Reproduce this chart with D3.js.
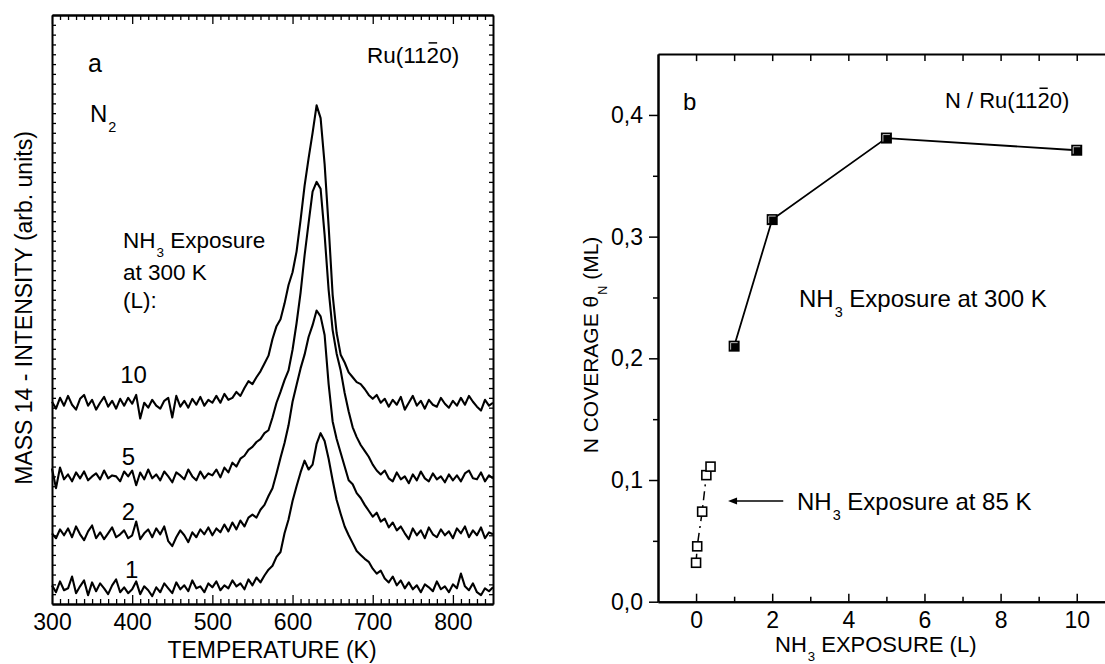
<!DOCTYPE html>
<html>
<head>
<meta charset="utf-8">
<script src="https://cdn.jsdelivr.net/npm/d3@7"></script>
<style>
body { margin: 0; background: #fff; }
svg { display: block; font-family: "Liberation Sans", Arial, sans-serif; }
.axis path, .axis line { stroke: #000; }
.axis text { font-size: 23px; fill: #000; font-family: "Liberation Sans", Arial, sans-serif; }
</style>
</head>
<body>
<svg id="chart" width="1105" height="664"></svg>
<script>
// ---- panel a : mass 14 TPD traces, one value every 5 K from 300 to 850 K
var tStart = 300, tStep = 5;
var exposureLabels = ["1", "2", "5", "10"];
var trace1 = [
  1.9, 1.2, 2.3, 1.4, 1.6, 2.8, 1.1, 1.8, 2.4, 0.9, 2.2, 1.3, 2.1, 1.6, 1.0, 1.9, 2.5, 1.2, 1.7, 1.1,
  1.5, 2.3, 1.0, 1.8, 1.4, 0.8, 1.7, 1.2, 2.1, 1.6, 1.1, 2.2, 1.5, 1.9, 1.3, 2.4, 1.6, 1.8, 1.2, 2.1,
  1.7, 2.3, 1.4, 1.9, 1.6, 2.4, 1.8, 2.1, 1.5, 2.5, 1.9, 2.7, 2.2, 2.9, 3.5, 3.9, 4.8, 5.3, 7.2, 8.6,
  10.5, 12.0, 13.4, 14.6, 13.7, 14.2, 16.3, 17.4, 16.6, 14.8, 12.6, 10.6, 9.2, 7.9, 7.0, 6.2, 5.4, 5.0, 4.6, 4.3,
  3.6, 3.1, 3.4, 2.6, 2.2, 2.8, 1.9, 2.4, 1.6, 2.2, 1.5, 1.9, 1.2, 2.0, 1.7, 1.3, 2.3, 1.5, 1.8, 1.2,
  2.0, 1.6, 3.1, 1.8, 1.4, 2.1, 1.2, 0.9, 1.6, 1.3, 1.7
];
var trace2 = [
  7.2, 6.7, 7.6, 7.0, 7.7, 6.8, 7.9, 7.1, 6.5, 7.4, 8.0, 6.7, 7.3, 6.6, 7.2, 7.8, 6.8, 7.1, 7.5, 6.7,
  7.0, 8.4, 6.6, 7.2, 7.6, 6.8, 7.7, 7.1, 7.9, 6.4, 5.9, 6.8, 7.5, 7.0, 6.3, 7.3, 6.8, 7.6, 7.1, 7.8,
  7.0, 7.7, 7.3, 8.1, 7.4, 8.3, 7.6, 8.5, 7.9, 8.8, 9.1, 8.8, 9.6, 10.1, 11.0, 11.8, 13.3, 14.9, 16.4, 18.2,
  20.6, 22.3, 24.0, 25.4, 27.2, 28.4, 29.9, 29.3, 27.4, 22.4, 18.6, 16.8, 15.4, 14.0, 12.6, 12.2, 11.3, 10.8, 10.1, 9.5,
  8.9, 9.3, 8.4, 8.7, 7.8, 8.3, 7.5, 7.9, 7.2, 6.6, 7.7, 7.0, 7.5, 6.7, 7.8, 7.1, 6.8, 7.6, 7.0, 7.4,
  6.7, 7.7, 7.2, 7.9, 6.8, 7.5, 7.0, 7.8, 6.7, 7.3, 7.1
];
var trace5 = [
  13.8, 11.8, 13.9, 12.7, 13.2, 12.5, 13.4, 12.8, 13.5, 12.6, 13.0, 13.3, 12.7, 13.6, 12.8, 13.1, 13.0, 12.5, 13.5, 13.0,
  13.6, 12.1, 13.4, 12.7, 13.7, 12.8, 13.2, 12.6, 13.5, 13.0, 12.4, 13.4, 13.1, 12.7, 13.7, 13.0, 12.6, 13.5, 12.8, 13.3,
  13.1, 13.7, 12.9, 13.9, 13.4, 14.4, 14.0, 14.8, 15.1, 15.7, 16.0, 16.5, 16.8, 17.4, 17.7, 19.0, 20.5, 21.6, 22.8, 23.8,
  25.9, 28.6, 31.7, 35.5, 38.8, 42.0, 43.0, 42.3, 37.6, 32.0, 27.9, 25.5, 23.8, 21.5, 19.6, 18.0, 17.0, 16.2, 15.6, 15.0,
  14.2, 13.6, 13.2, 13.6, 12.8, 12.5, 13.4, 12.7, 13.0, 12.3, 13.2, 12.6, 13.5, 12.8, 12.5, 13.3, 12.7, 13.0, 12.4, 13.2,
  12.6, 13.1, 12.5, 13.3, 13.6, 12.8, 12.7, 13.4, 12.5, 13.1, 12.8
];
var trace10 = [
  20.6, 19.9, 21.0, 20.2, 21.2, 20.3, 19.8, 20.9, 21.3, 20.2, 20.8, 19.8, 20.5, 21.1, 20.1, 20.7, 19.9, 20.9, 20.2, 21.0,
  20.4, 21.3, 18.9, 20.5, 20.0, 20.8, 20.2, 19.9, 20.7, 21.0, 19.0, 21.2, 20.1, 20.7, 20.0, 20.9, 20.3, 21.1, 20.2, 20.8,
  20.5, 21.2, 20.5, 21.4, 20.8, 21.0, 21.6, 21.2, 22.0, 22.7, 22.4, 23.1, 23.7, 24.5, 25.3, 27.0, 28.3, 29.0, 30.6, 32.5,
  33.8, 35.9, 39.1, 42.6, 45.4, 48.0, 50.8, 49.5, 44.8, 38.5, 31.5, 27.6, 25.4, 24.6, 23.6, 23.1, 22.6, 22.4, 21.9, 21.3,
  20.9, 21.3, 20.5, 20.9, 20.1, 20.8, 20.3, 21.1, 19.8, 20.5, 21.2, 20.2, 20.7, 19.9, 20.8, 20.3, 20.1, 21.0, 20.4, 20.0,
  20.7, 20.2, 21.0, 20.3, 21.2, 20.6, 20.1, 19.7, 20.8, 20.2, 20.5
];
var traces = [trace1, trace2, trace5, trace10];
// where each exposure label sits (temperature, intensity)
var labelT = [391, 387, 387, 385];
var labelI = [2.65, 8.55, 14.2, 22.5];

var tempTicks = [300, 400, 500, 600, 700, 800];

// ---- panel b : N coverage vs NH3 exposure
var exp300 = [1, 2, 5, 10];
var cov300 = [0.210, 0.314, 0.381, 0.371];
var exp85 = [0.0, 0.03, 0.16, 0.27, 0.38];
var cov85 = [0.032, 0.0455, 0.074, 0.104, 0.111];
var covTicks = [0, 0.1, 0.2, 0.3, 0.4];
var covMinor = [0.05, 0.15, 0.25, 0.35];
var expTicks = [0, 2, 4, 6, 8, 10];
var expMinor = [1, 3, 5, 7, 9];

var svg = d3.select("#chart");

function richText(parent, x, y, parts, size) {
  var t = parent.append("text").attr("x", x).attr("y", y)
    .attr("font-size", size).attr("fill", "#000");
  var shift = 0;
  parts.forEach(function(p) {
    var ts = t.append("tspan").text(p[0]);
    if (p[1] === "sub") {
      ts.attr("font-size", size * 0.6).attr("dy", size * 0.42 - shift).attr("dx", 1);
      shift = size * 0.42;
    } else if (shift) {
      ts.attr("dy", -shift);
      shift = 0;
    }
  });
  return t;
}

// ================= panel a =================
var xa = d3.scaleLinear().domain([300, 850]).range([52, 493]);
var ya = d3.scaleLinear().domain([0, 60]).range([604, 15]);
var ga = svg.append("g");

var minorT = d3.range(310, 850, 10).filter(function(d) { return d % 100 !== 0; });

ga.append("g").attr("class", "axis").attr("transform", "translate(0,604)")
  .call(d3.axisBottom(xa).tickValues(tempTicks).tickSize(-9).tickSizeOuter(0).tickPadding(10));
ga.append("g").attr("class", "axis").attr("transform", "translate(0,604)")
  .call(d3.axisBottom(xa).tickValues(minorT).tickSize(-5).tickSizeOuter(0).tickFormat(""));
ga.append("g").attr("class", "axis").attr("transform", "translate(0,15)")
  .call(d3.axisTop(xa).tickValues(tempTicks).tickSize(-9).tickSizeOuter(0).tickFormat(""));
ga.append("g").attr("class", "axis").attr("transform", "translate(0,15)")
  .call(d3.axisTop(xa).tickValues(minorT).tickSize(-5).tickSizeOuter(0).tickFormat(""));
ga.append("g").attr("class", "axis").attr("transform", "translate(52,0)")
  .call(d3.axisLeft(ya).tickValues(d3.range(1, 60)).tickSize(-4).tickSizeOuter(0).tickFormat(""));
ga.append("g").attr("class", "axis").attr("transform", "translate(493,0)")
  .call(d3.axisRight(ya).tickValues(d3.range(1, 60)).tickSize(-4).tickSizeOuter(0).tickFormat(""));
ga.selectAll(".axis path.domain").attr("stroke-width", 2);
ga.selectAll(".axis line").attr("stroke-width", 1.3);

var lineA = d3.line()
  .x(function(d, i) { return xa(tStart + i * tStep); })
  .y(function(d) { return ya(d); });

ga.selectAll("path.trace").data(traces).enter().append("path")
  .attr("class", "trace")
  .attr("d", lineA)
  .attr("fill", "none")
  .attr("stroke", "#000")
  .attr("stroke-width", 2.1)
  .attr("stroke-linejoin", "round");

ga.selectAll("text.exp").data(exposureLabels).enter().append("text")
  .attr("class", "exp")
  .attr("x", function(d, i) { return xa(labelT[i]); })
  .attr("y", function(d, i) { return ya(labelI[i]); })
  .attr("font-size", 24)
  .text(function(d) { return d; });

ga.append("text").attr("x", 88).attr("y", 72).attr("font-size", 25).text("a");
richText(ga, 90, 122, [["N"], ["2", "sub"]], 24);
richText(ga, 123, 248, [["NH"], ["3", "sub"], [" Exposure"]], 22.5);
ga.append("text").attr("x", 123).attr("y", 280).attr("font-size", 22.5).text("at 300 K");
ga.append("text").attr("x", 123).attr("y", 308).attr("font-size", 22.5).text("(L):");

var ruA = ga.append("text").attr("x", 367).attr("y", 63).attr("font-size", 22.5).text("Ru(1120)");
var ext = ruA.node().getExtentOfChar(5);
ga.append("line")
  .attr("x1", ext.x + 2).attr("x2", ext.x + ext.width - 2)
  .attr("y1", 63 - 0.716 * 22.5 - 4).attr("y2", 63 - 0.716 * 22.5 - 4)
  .attr("stroke", "#000").attr("stroke-width", 1.5);

ga.append("text").attr("x", 272).attr("y", 658).attr("font-size", 23)
  .attr("text-anchor", "middle").text("TEMPERATURE (K)");
ga.append("text").attr("transform", "translate(32,308) rotate(-90)")
  .attr("font-size", 23).attr("text-anchor", "middle")
  .text("MASS 14 - INTENSITY (arb. units)");

// ================= panel b =================
var xb = d3.scaleLinear().domain([-1, 11]).range([658, 1114.8]);
var yb = d3.scaleLinear().domain([0, 0.45]).range([601.7, 54.1]);
var gb = svg.append("g");
var fmt = function(d) { return d.toFixed(1).replace(".", ","); };

gb.append("g").attr("class", "axis").attr("transform", "translate(0,601.7)")
  .call(d3.axisBottom(xb).tickValues(expTicks).tickSize(-8).tickSizeOuter(0).tickPadding(10));
gb.append("g").attr("class", "axis").attr("transform", "translate(0,601.7)")
  .call(d3.axisBottom(xb).tickValues(expMinor).tickSize(-5).tickSizeOuter(0).tickFormat(""));
gb.append("g").attr("class", "axis").attr("transform", "translate(0,54.1)")
  .call(d3.axisTop(xb).tickValues(expTicks.concat(expMinor)).tickSize(-7).tickSizeOuter(0).tickFormat(""));
gb.append("g").attr("class", "axis").attr("transform", "translate(658,0)")
  .call(d3.axisLeft(yb).tickValues(covTicks).tickSize(9).tickSizeOuter(0).tickPadding(6).tickFormat(fmt));
gb.append("g").attr("class", "axis").attr("transform", "translate(658,0)")
  .call(d3.axisLeft(yb).tickValues(covMinor).tickSize(5).tickSizeOuter(0).tickFormat(""));
gb.selectAll(".axis path.domain").attr("stroke-width", 2);
gb.selectAll(".axis line").attr("stroke-width", 1.5);
gb.selectAll(".axis text").attr("font-size", 23);

var lineB = d3.line()
  .x(function(d) { return xb(d[0]); })
  .y(function(d) { return yb(d[1]); });

var pts85 = d3.zip(exp85, cov85);
var pts300 = d3.zip(exp300, cov300);

gb.append("path").attr("d", lineB(pts85))
  .attr("fill", "none").attr("stroke", "#000").attr("stroke-width", 1.5)
  .attr("stroke-dasharray", "9,5,2,5");
gb.append("path").attr("d", lineB(pts300))
  .attr("fill", "none").attr("stroke", "#000").attr("stroke-width", 1.8);

gb.selectAll("rect.open").data(pts85).enter().append("rect")
  .attr("class", "open")
  .attr("x", function(d) { return xb(d[0]) - 4.5; })
  .attr("y", function(d) { return yb(d[1]) - 4.5; })
  .attr("width", 9).attr("height", 9)
  .attr("fill", "#fff").attr("stroke", "#000").attr("stroke-width", 1.6);

gb.selectAll("rect.full").data(pts300).enter().append("rect")
  .attr("class", "full")
  .attr("x", function(d) { return xb(d[0]) - 5.5; })
  .attr("y", function(d) { return yb(d[1]) - 5.5; })
  .attr("width", 11).attr("height", 11)
  .attr("fill", "#000");
gb.selectAll("path.hl").data(pts300).enter().append("path")
  .attr("class", "hl")
  .attr("d", function(d) {
    var cx = xb(d[0]), cy = yb(d[1]);
    return "M" + (cx - 3.5) + "," + (cy + 3.5) + "V" + (cy - 3.5) + "H" + (cx + 3.5);
  })
  .attr("fill", "none").attr("stroke", "#bbb").attr("stroke-width", 1);

// arrow for the 85 K data
var ay = yb(0.0828);
gb.append("line").attr("x1", xb(2.29)).attr("x2", xb(0.95)).attr("y1", ay).attr("y2", ay)
  .attr("stroke", "#000").attr("stroke-width", 1.5);
gb.append("path")
  .attr("d", "M" + xb(0.84) + "," + ay + "l9,-3.5v7z")
  .attr("fill", "#000");

gb.append("text").attr("x", 683).attr("y", 110).attr("font-size", 24).text("b");
var ruB = gb.append("text").attr("x", 945).attr("y", 108).attr("font-size", 22).text("N / Ru(1120)");
var extB = ruB.node().getExtentOfChar(9);
gb.append("line")
  .attr("x1", extB.x + 2).attr("x2", extB.x + extB.width - 2)
  .attr("y1", 108 - 0.716 * 22 - 4).attr("y2", 108 - 0.716 * 22 - 4)
  .attr("stroke", "#000").attr("stroke-width", 1.5);

richText(gb, 799, 307, [["NH"], ["3", "sub"], [" Exposure at 300 K"]], 24);
richText(gb, 797, 510, [["NH"], ["3", "sub"], [" Exposure at 85 K"]], 24);

richText(gb, 775, 652, [["NH"], ["3", "sub"], [" EXPOSURE (L)"]], 22);
var yt = richText(gb, 0, 0, [["N COVERAGE θ"], ["N", "sub"], [" (ML)"]], 21);
yt.attr("transform", "translate(598,345) rotate(-90)").attr("text-anchor", "middle");
</script>
</body>
</html>
